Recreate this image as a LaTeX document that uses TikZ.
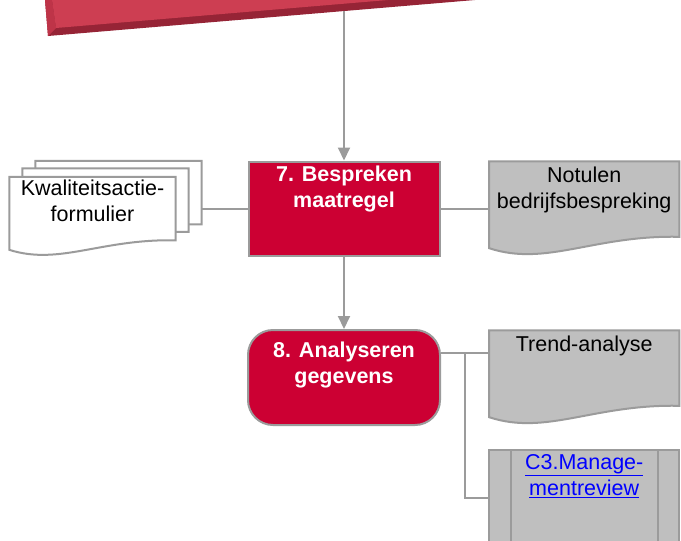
\documentclass[tikz,border=0pt]{standalone}
\usepackage{fontspec}
\setmainfont{Liberation Sans}
\usepackage{tikz}
\usetikzlibrary{arrows.meta, positioning, calc}

\definecolor{stepred}{RGB}{204,0,51}
\definecolor{docgray}{RGB}{191,191,191}
\definecolor{linegray}{RGB}{155,155,155}
\definecolor{linkblue}{RGB}{0,0,255}
\definecolor{topface}{RGB}{205,62,82}
\definecolor{topside}{RGB}{190,52,72}
\definecolor{topdark}{RGB}{150,36,54}

\tikzset{
  boxline/.style={draw=linegray, line width=2pt},
  proc/.style={boxline, fill=stepred, minimum width=191pt, minimum height=94pt, inner sep=0pt},
  proctext/.style={text=white, font=\bfseries\fontsize{21.5}{26}\selectfont, align=center, inner sep=0pt},
  docu/.style={minimum width=190pt, minimum height=94pt, inner sep=0pt},
  doctext/.style={font=\fontsize{21.5}{26}\selectfont, align=center, inner sep=0pt},
  conn/.style={draw=linegray, line width=2pt},
  flow/.style={conn, -{Triangle[length=13pt, width=12pt]}}
}

\newcommand\docshape[2]{%
  \filldraw[boxline, fill=#1] let \p1=(#2.north west), \p2=(#2.south east) in
    (\x1,\y1) -- (\x2,\y1) -- (\x2,{\y1+0.8*(\y2-\y1)})
    .. controls ({\x1+0.55*(\x2-\x1)},{\y1+0.78*(\y2-\y1)}) and ({\x1+0.3*(\x2-\x1)},{\y1+1.12*(\y2-\y1)})
    .. (\x1,{\y1+0.92*(\y2-\y1)}) -- cycle;}

\begin{document}
\begin{tikzpicture}[x=1pt, y=-1pt]
\useasboundingbox (0,0) rectangle (681,541);

\fill[topdark] (45,0) -- (48,36) -- (475,0) -- cycle;
\fill[topside] (45,0) -- (48,36) -- (56,28) -- (52,0) -- cycle;
\fill[topface] (52,0) -- (56,28) -- (388,0) -- cycle;
\coordinate (topend) at (344,11);

\node[proc] (m7) at (344,208.5) {};
\node[proctext, below=5pt of m7.north] (m7text) {7. Bespreken\\maatregel};
\node[proc, minimum width=192pt, minimum height=95pt, rounded corners=25pt, below=72.5pt of m7] (m8) {};
\node[proctext, below=13pt of m8.north] (m8text) {8. Analyseren\\gegevens};

\node[docu, right=48.5pt of m7] (notulen) {};
\docshape{docgray}{notulen}
\node[doctext, below=5pt of notulen.north] (notulentext) {Notulen\\bedrijfsbespreking};

\node[docu, right=48pt of m8] (trend) {};
\docshape{docgray}{trend}
\node[doctext, below=5pt of trend.north] (trendtext) {Trend-analyse};

\node[boxline, fill=docgray, minimum width=190pt, minimum height=95pt, below=24.5pt of trend] (c3) {};
\draw[boxline] ([xshift=23pt]c3.north west) -- ([xshift=23pt]c3.south west);
\draw[boxline] ([xshift=-22pt]c3.north east) -- ([xshift=-22pt]c3.south east);
\node[doctext, text=linkblue, below=5pt of c3.north] (c3text) {\underline{C3.Manage-}\\\underline{mentreview}};

\node[docu, minimum width=166pt, minimum height=79pt] (kw3) at (118.5,200.5) {};
\node[docu, minimum width=166pt, minimum height=79pt] (kw2) at ([shift={(-13,7.5)}]kw3) {};
\node[docu, minimum width=166pt, minimum height=79pt] (kw1) at ([shift={(-13,8.5)}]kw2) {};
\docshape{white}{kw3}
\docshape{white}{kw2}
\docshape{white}{kw1}
\node[doctext, below=2.5pt of kw1.north] (kwtext) {Kwaliteitsactie-\\formulier};

\draw[flow] (topend) -- (m7);
\draw[flow] (m7) -- (m8);
\draw[conn] (m7.east) -- (notulen.west);
\draw[conn] (m7.west) -- (m7.west -| kw3.east);
\draw[conn] ([yshift=-24pt]m8.north east) -- ([yshift=-24pt]m8.north east -| trend.west);
\draw[conn] ([xshift=24pt, yshift=-24pt]m8.north east) |- (c3.west);
\end{tikzpicture}
\end{document}
